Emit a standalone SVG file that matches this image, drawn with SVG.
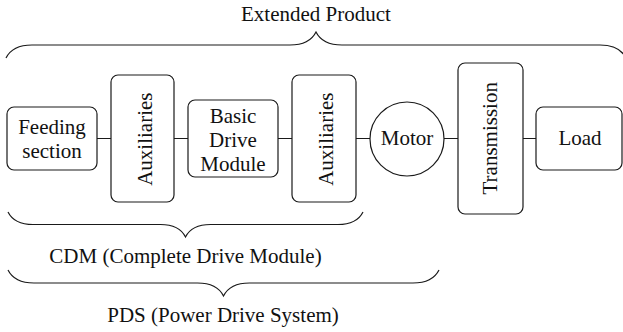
<svg xmlns="http://www.w3.org/2000/svg" width="623" height="332" viewBox="0 0 623 332" font-family="'Liberation Serif', 'Times New Roman', Times, 'DejaVu Serif', serif">
<style>
.box{fill:#fff;stroke:#1a1a1a;stroke-width:1.2}
.ln{fill:none;stroke:#1a1a1a;stroke-width:1.2}
.t{font-family:'Liberation Serif','Times New Roman',Times,'DejaVu Serif',serif;font-size:21px;fill:#111;text-anchor:middle}
</style>
<rect width="623" height="332" fill="#fff"/>
<g id="connectors" class="ln">
<path d="M97,138.5H111M174,138.5H188M278,138.5H292M356,138.5H370M444,138.5H458M523,138.5H536"/>
</g>
<g id="braces" class="ln">
<path id="brace-extended" d="M6,58 C9.9,50.2 19,45 32,45 L290,45 C303,45 312.1,39.8 316,32 C319.9,39.8 329,45 342,45 L600,45 C613,45 622.1,50.2 626,58"/>
<path id="brace-cdm" d="M8,212 C11.75,219.5 20.5,224.5 33,224.5 L160.5,224.5 C173,224.5 181.75,229.5 185.5,237 C189.25,229.5 198,224.5 210.5,224.5 L338,224.5 C350.5,224.5 359.25,219.5 363,212"/>
<path id="brace-pds" d="M8,270 C11.9,277.8 21,283 34,283 L197.5,283 C210.5,283 219.6,288.2 223.5,296 C227.4,288.2 236.5,283 249.5,283 L413,283 C426,283 435.1,277.8 439,270"/>
</g>
<g id="feeding">
<rect class="box" x="7" y="107" width="90" height="63" rx="7"/>
<text class="t" x="52" y="134">Feeding</text>
<text class="t" x="52" y="157.5">section</text>
</g>
<g id="aux1">
<rect class="box" x="111" y="75" width="63" height="127" rx="7"/>
<text class="t" transform="translate(151.5,139.2) rotate(-90)">Auxiliaries</text>
</g>
<g id="bdm">
<rect class="box" x="188" y="100" width="90" height="77" rx="7"/>
<text class="t" x="233" y="122.5">Basic</text>
<text class="t" x="233" y="146.5">Drive</text>
<text class="t" x="233" y="170.5">Module</text>
</g>
<g id="aux2">
<rect class="box" x="292" y="75" width="64" height="127" rx="7"/>
<text class="t" transform="translate(333,139.2) rotate(-90)">Auxiliaries</text>
</g>
<g id="motor">
<circle class="box" cx="407" cy="139" r="37"/>
<text class="t" x="407" y="145">Motor</text>
</g>
<g id="transmission">
<rect class="box" x="458" y="63" width="65" height="151" rx="7"/>
<text class="t" transform="translate(497.3,138.3) rotate(-90)">Transmission</text>
</g>
<g id="load">
<rect class="box" x="536" y="107" width="86" height="63" rx="7"/>
<text class="t" x="580" y="145">Load</text>
</g>
<g id="labels">
<text class="t" x="316" y="20.5">Extended Product</text>
<text class="t" x="185.5" y="263">CDM (Complete Drive Module)</text>
<text class="t" x="223" y="321.5">PDS (Power Drive System)</text>
</g>
</svg>
